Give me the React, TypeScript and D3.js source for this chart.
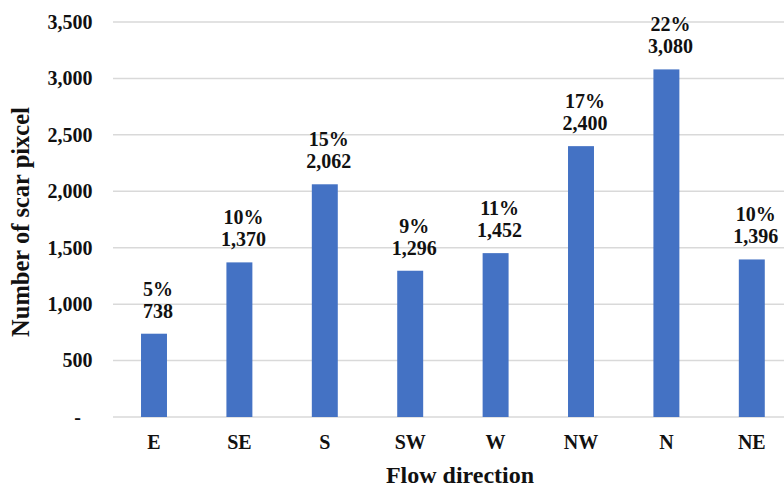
import React from "react";
import * as d3 from "d3";

const categories = ["E", "SE", "S", "SW", "W", "NW", "N", "NE"];
const values = [738, 1370, 2062, 1296, 1452, 2400, 3080, 1396];
const percentLabels = ["5%", "10%", "15%", "9%", "11%", "17%", "22%", "10%"];
const yTicks = [0, 500, 1000, 1500, 2000, 2500, 3000, 3500];

const W = 784;
const H = 490;
const FONT = '"Liberation Serif", "Times New Roman", serif';
const BAR = "#4472C4";
const GRID = "#d9d9d9";

export default function App() {
  const x = d3
    .scaleBand<string>()
    .domain(categories)
    .range([111.3, 794.5])
    .paddingInner(0.696)
    .paddingOuter(0.348);
  const y = d3.scaleLinear().domain([0, 3500]).range([417, 22]);
  const fmt = d3.format(",");

  return (
    <svg
      width={W}
      height={H}
      style={{ position: "absolute", left: 0, top: 0, background: "#fff" }}
      fontFamily={FONT}
      fontWeight="bold"
    >
      {/* horizontal gridlines and y tick labels */}
      {yTicks.map((t) => (
        <g key={t}>
          <line x1={113} x2={W} y1={y(t)} y2={y(t)} stroke={GRID} strokeWidth={1.5} />
          <text
            x={t === 0 ? 81 : 92.5}
            y={y(t)}
            dy="0.34em"
            textAnchor="end"
            fontSize={20}
            fill="#111"
          >
            {t === 0 ? "-" : fmt(t)}
          </text>
        </g>
      ))}

      {/* bars */}
      {values.map((v, i) => (
        <rect
          key={categories[i]}
          x={x(categories[i])}
          y={y(v)}
          width={x.bandwidth()}
          height={y(0) - y(v)}
          fill={BAR}
        />
      ))}

      {/* value labels: percentage over count */}
      {values.map((v, i) => {
        const cx = (x(categories[i]) as number) + x.bandwidth() / 2 + 4;
        return (
          <text key={"lab" + i} x={cx} textAnchor="middle" fontSize={20} fill="#111">
            <tspan x={cx} y={y(v) - 38}>
              {percentLabels[i]}
            </tspan>
            <tspan x={cx} y={y(v) - 16}>
              {fmt(v)}
            </tspan>
          </text>
        );
      })}

      {/* category labels */}
      {categories.map((c) => (
        <text
          key={"cat" + c}
          x={(x(c) as number) + x.bandwidth() / 2}
          y={449}
          textAnchor="middle"
          fontSize={20}
          fill="#111"
        >
          {c}
        </text>
      ))}

      {/* axis titles */}
      <text x={460} y={483} textAnchor="middle" fontSize={24} fill="#111">
        Flow direction
      </text>
      <text
        transform={`translate(29, 222) rotate(-90)`}
        textAnchor="middle"
        fontSize={24.5}
        fill="#111"
      >
        Number of scar pixcel
      </text>
    </svg>
  );
}
